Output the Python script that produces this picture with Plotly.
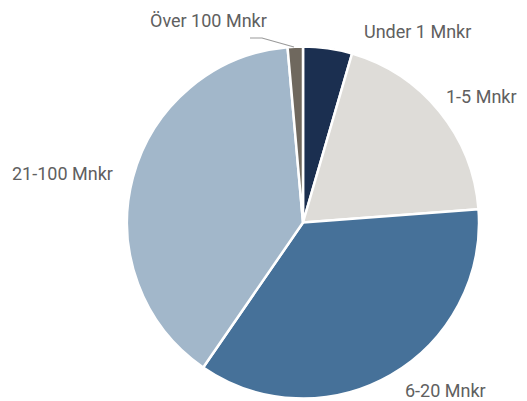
import plotly.graph_objects as go

# slice data, clockwise from 12 o'clock
labels = ['Under 1 Mnkr', '1-5 Mnkr', '6-20 Mnkr', '21-100 Mnkr', 'Över 100 Mnkr']
values = [4.5, 19.3, 35.8, 39.0, 1.4]
colors = ['#1b2f50', '#dedcd8', '#467199', '#a2b7ca', '#6f685e']

W, H = 519, 401
OFF = 8  # page body margin
L, R, T, B = 119, 48, 38, 10
pw, ph = W - L - R, H - T - B


def px(x, y):
    # window pixel -> paper coords of the plot area
    return (x - OFF - L) / pw, 1 - (y - OFF - T) / ph


fig = go.Figure(go.Pie(
    labels=labels,
    values=values,
    marker=dict(colors=colors, line=dict(color='white', width=2.5)),
    sort=False,
    direction='clockwise',
    rotation=0,
    textinfo='none',
    hoverinfo='label+percent',
))

label_pos = {
    'Under 1 Mnkr': (417, 31),
    '1-5 Mnkr': (481, 96),
    '6-20 Mnkr': (445, 390),
    '21-100 Mnkr': (62, 173),
    'Över 100 Mnkr': (208, 20),
}
for name, (x, y) in label_pos.items():
    ax, ay = px(x, y)
    fig.add_annotation(x=ax, y=ay, xref='paper', yref='paper', text=name,
                       showarrow=False, xanchor='center', yanchor='middle')

# leader line for the small slice
x0, y0 = px(250, 38)
x1, y1 = px(262, 38)
x2, y2 = px(294, 47)
fig.add_shape(type='path', xref='paper', yref='paper',
              path=f'M {x0} {y0} L {x1} {y1} L {x2} {y2}',
              line=dict(color='#9a9a9a', width=1.2))

fig.update_layout(
    width=W, height=H,
    margin=dict(l=L, r=R, t=T, b=B),
    showlegend=False,
    paper_bgcolor='white',
    font=dict(family='Roboto, sans-serif', size=18, color='#606060'),
)
fig.write_html('out.html')
